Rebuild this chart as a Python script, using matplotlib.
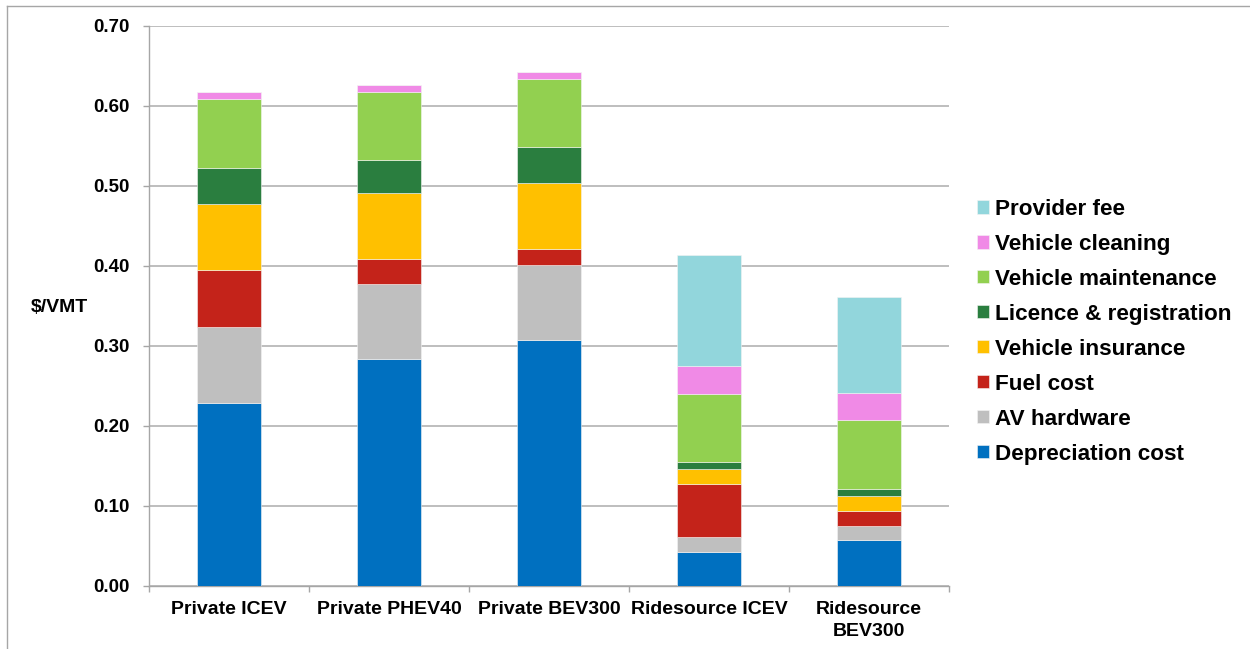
import numpy as np
import matplotlib.pyplot as plt
from matplotlib.lines import Line2D
from matplotlib.ticker import MultipleLocator, FixedLocator, NullFormatter

plt.rcParams['font.family'] = ['Liberation Sans', 'DejaVu Sans']
plt.rcParams['font.weight'] = 'bold'

vehicles = ["Private ICEV", "Private PHEV40", "Private BEV300",
            "Ridesource ICEV", "Ridesource\nBEV300"]

# cost components, $/VMT, bottom to top
depreciation = [0.229, 0.284, 0.307, 0.043, 0.0575]
av_hardware = [0.095, 0.094, 0.094, 0.018, 0.018]
fuel = [0.071, 0.031, 0.020, 0.067, 0.0185]
insurance = [0.0825, 0.082, 0.083, 0.018, 0.0185]
licence = [0.0455, 0.0415, 0.045, 0.009, 0.0085]
maintenance = [0.086, 0.0855, 0.085, 0.0855, 0.086]
cleaning = [0.008, 0.008, 0.0085, 0.0345, 0.034]
provider_fee = [0.0, 0.0, 0.0, 0.139, 0.120]

components = [
    ("Depreciation cost", depreciation, "#0070C0"),
    ("AV hardware", av_hardware, "#BFBFBF"),
    ("Fuel cost", fuel, "#C4231A"),
    ("Vehicle insurance", insurance, "#FFC000"),
    ("Licence & registration", licence, "#2A7E3F"),
    ("Vehicle maintenance", maintenance, "#92D050"),
    ("Vehicle cleaning", cleaning, "#F08AE6"),
    ("Provider fee", provider_fee, "#92D6DC"),
]

fig = plt.figure(figsize=(12.5, 6.49), dpi=100)
ax = fig.add_axes([0.1192, 0.0971, 0.64, 0.8629])

x = np.arange(len(vehicles))
bottom = np.zeros(len(vehicles))
handles = []
for name, vals, color in components:
    vals = np.array(vals)
    b = ax.bar(x, vals, width=0.4, bottom=bottom, color=color,
               edgecolor="#F4F4F4", linewidth=0.4, label=name, zorder=3)
    handles.append(b)
    bottom += vals

ax.set_xlim(-0.5, len(vehicles) - 0.5)
ax.set_ylim(0, 0.70)
ax.yaxis.set_major_locator(MultipleLocator(0.10))
ax.yaxis.set_major_formatter(lambda v, p: f"{v:.2f}")
ax.grid(axis="y", color="#B3B3B3", linewidth=1.2, zorder=0)

ax.set_xticks(x)
ax.set_xticklabels(vehicles, fontsize=14, fontweight="bold", linespacing=1.4)
ax.tick_params(axis="x", which="major", length=0, pad=11)
ax.xaxis.set_minor_locator(FixedLocator(np.arange(-0.5, len(vehicles), 1.0)))
ax.xaxis.set_minor_formatter(NullFormatter())
ax.tick_params(axis="x", which="minor", length=4, color="#A6A6A6", width=1)
ax.tick_params(axis="y", length=4, color="#A6A6A6", width=1,
               labelsize=13.5, pad=10)
for lbl in ax.get_yticklabels():
    lbl.set_fontweight("bold")

for side in ("top", "right"):
    ax.spines[side].set_visible(False)
for side in ("left", "bottom"):
    ax.spines[side].set_color("#A6A6A6")
    ax.spines[side].set_linewidth(1)

ax.set_ylabel("$/VMT", rotation=0, fontsize=14, fontweight="bold",
              ha="center", va="center")
ax.yaxis.set_label_coords(-0.1125, 0.498)

fig.legend(handles[::-1], [c[0] for c in components][::-1],
           loc="upper left", bbox_to_anchor=(977 / 1250, 1 - 199 / 649),
           frameon=False, prop={"weight": "bold", "size": 16.2},
           handlelength=0.52, handleheight=0.52, handletextpad=0.28,
           labelspacing=0.62, borderpad=0, borderaxespad=0)

# thin frame around the chart area
fig.add_artist(Line2D([7 / 1250, 1], [1 - 6 / 649, 1 - 6 / 649],
                      color="#A6A6A6", linewidth=1))
fig.add_artist(Line2D([7 / 1250, 7 / 1250], [0, 1 - 6 / 649],
                      color="#A6A6A6", linewidth=1))

fig.savefig("out.png", dpi=100)
